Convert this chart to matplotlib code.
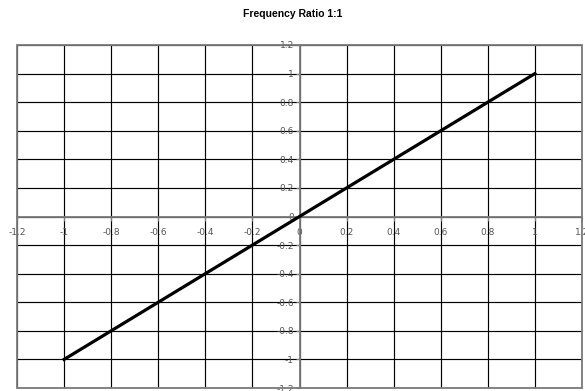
import matplotlib

matplotlib.use("Agg")
import matplotlib.pyplot as plt
from matplotlib.patches import Rectangle

# ratio 1:1 trace endpoints
x_vals = [-1.0, 1.0]
y_vals = [-1.0, 1.0]

ticks = [-1.2, -1.0, -0.8, -0.6, -0.4, -0.2, 0.0, 0.2, 0.4, 0.6, 0.8, 1.0, 1.2]
tick_labels = ["-1.2", "-1", "-0.8", "-0.6", "-0.4", "-0.2", "0", "0.2", "0.4", "0.6", "0.8", "1", "1.2"]
title = "Frequency Ratio 1:1"

fig = plt.figure(figsize=(5.85, 3.91), dpi=100)
ax = fig.add_axes([17 / 585, 1 - 388 / 391, 565 / 585, 343 / 391])
ax.set_xlim(-1.2, 1.2)
ax.set_ylim(-1.2, 1.2)

for t in ticks:
    ax.axvline(t, color="black", lw=0.85, zorder=1)
    ax.axhline(t, color="black", lw=0.85, zorder=1)

# center axes
ax.spines["left"].set_position(("data", 0))
ax.spines["bottom"].set_position(("data", 0))
for side in ("left", "bottom"):
    ax.spines[side].set_color("#7a7a7a")
    ax.spines[side].set_linewidth(1.3)
    ax.spines[side].set_zorder(2)
for side in ("top", "right"):
    ax.spines[side].set_visible(False)
ax.add_patch(Rectangle((0, 0), 1, 1, transform=ax.transAxes, fill=False,
                       edgecolor="#7a7a7a", lw=1.3, zorder=3, clip_on=False))

ax.set_xticks(ticks)
ax.set_xticklabels(tick_labels)
ax.set_yticks(ticks)
ax.set_yticklabels(tick_labels)
ax.tick_params(axis="both", length=3, width=0.8, color="#7a7a7a",
               labelsize=6.5, labelcolor="#555555")
ax.tick_params(axis="x", pad=5)
ax.tick_params(axis="y", pad=1)

ax.plot(x_vals, y_vals, color="black", lw=2.3, zorder=4)

fig.text(0.5, 1 - 14 / 391, title, ha="center", va="center",
         fontsize=7.5, fontweight="bold", family="Liberation Sans")

fig.savefig("out.png", dpi=100)
